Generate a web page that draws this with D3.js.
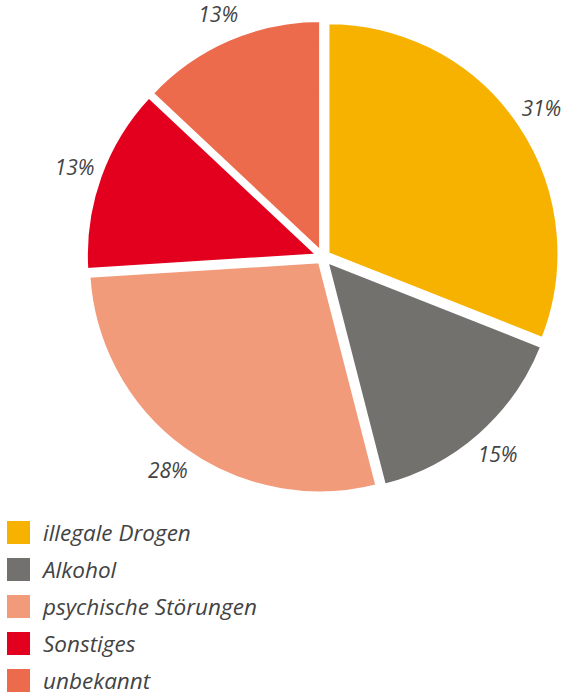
<!DOCTYPE html>
<html>
<head>
<meta charset="utf-8">
<script src="https://cdn.jsdelivr.net/npm/d3@7"></script>
<style>
  body { margin: 0; background: #fff; }
  text { font-family: "Open Sans", sans-serif; font-style: italic; fill: #434343; }
</style>
</head>
<body>
<div id="chart"></div>
<script>
// chart values
const categories = ["illegale Drogen", "Alkohol", "psychische Störungen", "Sonstiges", "unbekannt"];
const shares = [31, 15, 28, 13, 13];
const colors = ["#f7b200", "#72716e", "#f19b7b", "#e2001e", "#ec6b4d"];

const width = 570, height = 698;
const cx = 323, cy = 257, radius = 231;
const explode = 6;

const svg = d3.select("#chart").append("svg")
    .attr("width", width)
    .attr("height", height);

const color = d3.scaleOrdinal().domain(categories).range(colors);

const pie = d3.pie().sort(null).value(d => d.value);
const arcs = pie(categories.map((c, i) => ({name: c, value: shares[i]})));

const arc = d3.arc().innerRadius(0).outerRadius(radius);
const labelArc = d3.arc().innerRadius(264).outerRadius(264);

const g = svg.append("g").attr("transform", `translate(${cx},${cy})`);

// exploded slices
g.selectAll("path.slice")
    .data(arcs)
    .enter().append("path")
    .attr("class", "slice")
    .attr("d", arc)
    .attr("transform", d => {
        let mid = (d.startAngle + d.endAngle) / 2;
        return `translate(${explode * Math.sin(mid)},${-explode * Math.cos(mid)})`;
    })
    .style("fill", d => color(d.data.name))
    .style("stroke", "#fff")
    .style("stroke-width", 3)
    .style("stroke-linejoin", "round");

// percent labels
g.selectAll("text.pct")
    .data(arcs)
    .enter().append("text")
    .attr("class", "pct")
    .attr("x", d => labelArc.centroid(d)[0])
    .attr("y", d => labelArc.centroid(d)[1])
    .attr("dy", "0.35em")
    .attr("text-anchor", "middle")
    .style("font-size", "21px")
    .text(d => d.data.value + "%");

// legend
const legend = svg.append("g").attr("transform", "translate(7,521)");
const row = 37;

legend.selectAll("rect")
    .data(categories)
    .enter().append("rect")
    .attr("x", 0)
    .attr("y", (d, i) => i * row)
    .attr("width", 23)
    .attr("height", 23)
    .style("fill", d => color(d));

legend.selectAll("text")
    .data(categories)
    .enter().append("text")
    .attr("x", 36)
    .attr("y", (d, i) => i * row + 20)
    .style("font-size", "22.5px")
    .text(d => d);
</script>
</body>
</html>
